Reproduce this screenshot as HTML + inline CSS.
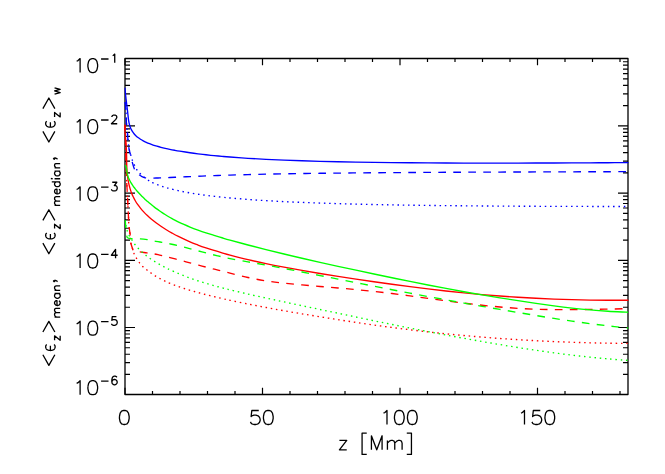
<!DOCTYPE html>
<html><head><meta charset="utf-8"><title>plot</title>
<style>html,body{margin:0;padding:0;background:#fff;font-family:"Liberation Sans",sans-serif}svg{display:block}</style>
</head><body>
<svg width="665" height="474" viewBox="0 0 665 474">
<rect width="665" height="474" fill="#fff"/>
<path d="M125.0 58.5 H628.0 V394.5 H125.0 Z" fill="none" stroke="#000" stroke-width="1.3" stroke-linejoin="round"/>
<path d="M125 394.5 v-6.7 M125 58.5 v6.7 M152.5 394.5 v-3.4 M152.5 58.5 v3.4 M180 394.5 v-3.4 M180 58.5 v3.4 M207.5 394.5 v-3.4 M207.5 58.5 v3.4 M235 394.5 v-3.4 M235 58.5 v3.4 M262.5 394.5 v-6.7 M262.5 58.5 v6.7 M290 394.5 v-3.4 M290 58.5 v3.4 M317.5 394.5 v-3.4 M317.5 58.5 v3.4 M345 394.5 v-3.4 M345 58.5 v3.4 M372.5 394.5 v-3.4 M372.5 58.5 v3.4 M400 394.5 v-6.7 M400 58.5 v6.7 M427.5 394.5 v-3.4 M427.5 58.5 v3.4 M455 394.5 v-3.4 M455 58.5 v3.4 M482.5 394.5 v-3.4 M482.5 58.5 v3.4 M510 394.5 v-3.4 M510 58.5 v3.4 M537.5 394.5 v-6.7 M537.5 58.5 v6.7 M565 394.5 v-3.4 M565 58.5 v3.4 M592.5 394.5 v-3.4 M592.5 58.5 v3.4 M620 394.5 v-3.4 M620 58.5 v3.4 M125.0 374.47 h5 M628.0 374.47 h-5 M125.0 362.64 h5 M628.0 362.64 h-5 M125.0 354.24 h5 M628.0 354.24 h-5 M125.0 347.73 h5 M628.0 347.73 h-5 M125.0 342.41 h5 M628.0 342.41 h-5 M125.0 337.91 h5 M628.0 337.91 h-5 M125.0 334.01 h5 M628.0 334.01 h-5 M125.0 330.57 h5 M628.0 330.57 h-5 M125.0 327.5 h10 M628.0 327.5 h-10 M125.0 307.27 h5 M628.0 307.27 h-5 M125.0 295.44 h5 M628.0 295.44 h-5 M125.0 287.04 h5 M628.0 287.04 h-5 M125.0 280.53 h5 M628.0 280.53 h-5 M125.0 275.21 h5 M628.0 275.21 h-5 M125.0 270.71 h5 M628.0 270.71 h-5 M125.0 266.81 h5 M628.0 266.81 h-5 M125.0 263.37 h5 M628.0 263.37 h-5 M125.0 260.3 h10 M628.0 260.3 h-10 M125.0 240.07 h5 M628.0 240.07 h-5 M125.0 228.24 h5 M628.0 228.24 h-5 M125.0 219.84 h5 M628.0 219.84 h-5 M125.0 213.33 h5 M628.0 213.33 h-5 M125.0 208.01 h5 M628.0 208.01 h-5 M125.0 203.51 h5 M628.0 203.51 h-5 M125.0 199.61 h5 M628.0 199.61 h-5 M125.0 196.17 h5 M628.0 196.17 h-5 M125.0 193.1 h10 M628.0 193.1 h-10 M125.0 172.87 h5 M628.0 172.87 h-5 M125.0 161.04 h5 M628.0 161.04 h-5 M125.0 152.64 h5 M628.0 152.64 h-5 M125.0 146.13 h5 M628.0 146.13 h-5 M125.0 140.81 h5 M628.0 140.81 h-5 M125.0 136.31 h5 M628.0 136.31 h-5 M125.0 132.41 h5 M628.0 132.41 h-5 M125.0 128.97 h5 M628.0 128.97 h-5 M125.0 125.9 h10 M628.0 125.9 h-10 M125.0 105.67 h5 M628.0 105.67 h-5 M125.0 93.84 h5 M628.0 93.84 h-5 M125.0 85.44 h5 M628.0 85.44 h-5 M125.0 78.93 h5 M628.0 78.93 h-5 M125.0 73.61 h5 M628.0 73.61 h-5 M125.0 69.11 h5 M628.0 69.11 h-5 M125.0 65.21 h5 M628.0 65.21 h-5 M125.0 61.77 h5 M628.0 61.77 h-5 M125.0 58.5 h10 M628.0 58.5 h-10 M125.0 394.5 h10 M628.0 394.5 h-10" fill="none" stroke="#000" stroke-width="1.2"/>
<defs><clipPath id="cp"><rect x="124.3" y="58.5" width="504.4" height="336.0"/></clipPath></defs>
<g fill="none" stroke-width="1.35" stroke-linejoin="round" clip-path="url(#cp)">
<path d="M125 87.8 C125 87.85 125.01 87.98 125.02 88.08 C125.03 88.18 125.03 88.27 125.04 88.38 C125.05 88.48 125.05 88.6 125.06 88.71 C125.07 88.82 125.08 88.94 125.09 89.06 C125.1 89.18 125.1 89.3 125.11 89.43 C125.12 89.56 125.14 89.69 125.15 89.83 C125.16 89.97 125.17 90.11 125.18 90.26 C125.19 90.41 125.21 90.55 125.22 90.71 C125.23 90.86 125.25 91.02 125.26 91.19 C125.27 91.36 125.28 91.53 125.3 91.7 C125.31 91.87 125.33 92.05 125.35 92.23 C125.37 92.41 125.38 92.61 125.4 92.8 C125.42 92.99 125.44 93.19 125.46 93.39 C125.48 93.59 125.5 93.8 125.52 94.02 C125.54 94.23 125.56 94.46 125.58 94.68 C125.6 94.9 125.63 95.12 125.66 95.36 C125.69 95.59 125.7 95.84 125.73 96.09 C125.76 96.34 125.78 96.58 125.81 96.84 C125.84 97.1 125.87 97.36 125.9 97.63 C125.93 97.9 125.96 98.17 125.99 98.45 C126.02 98.73 126.06 99.02 126.09 99.31 C126.12 99.6 126.16 99.9 126.2 100.2 C126.24 100.5 126.27 100.82 126.31 101.14 C126.35 101.46 126.39 101.77 126.43 102.1 C126.47 102.43 126.51 102.77 126.55 103.11 C126.59 103.45 126.64 103.8 126.69 104.16 C126.74 104.52 126.78 104.89 126.83 105.27 C126.88 105.65 126.92 106.04 126.97 106.44 C127.02 106.84 127.07 107.25 127.12 107.68 C127.17 108.11 127.22 108.55 127.28 109.01 C127.34 109.47 127.39 109.93 127.45 110.42 C127.51 110.91 127.57 111.41 127.63 111.93 C127.69 112.45 127.75 112.98 127.81 113.54 C127.87 114.1 127.94 114.67 128 115.27 C128.06 115.87 128.12 116.49 128.19 117.12 C128.26 117.75 128.33 118.4 128.42 119.07 C128.51 119.74 128.59 120.43 128.71 121.12 C128.83 121.81 128.95 122.51 129.11 123.22 C129.27 123.93 129.44 124.65 129.65 125.36 C129.86 126.07 130.1 126.79 130.38 127.5 C130.66 128.21 130.96 128.93 131.32 129.63 C131.68 130.33 132.08 131.03 132.53 131.71 C132.98 132.39 133.48 133.07 134.03 133.73 C134.58 134.39 135.19 135.03 135.85 135.65 C136.51 136.28 137.24 136.89 138.01 137.48 C138.78 138.07 139.6 138.64 140.47 139.2 C141.34 139.75 142.26 140.29 143.23 140.81 C144.19 141.33 145.21 141.83 146.26 142.32 C147.31 142.81 148.41 143.27 149.55 143.72 C150.69 144.17 151.87 144.61 153.09 145.02 C154.31 145.44 155.57 145.83 156.88 146.21 C158.19 146.59 159.53 146.97 160.92 147.33 C162.31 147.69 163.74 148.03 165.22 148.36 C166.7 148.69 168.22 149.02 169.79 149.33 C171.35 149.65 172.96 149.95 174.61 150.25 C176.26 150.55 177.12 150.71 179.69 151.12 C182.25 151.53 186.95 152.29 190 152.74 C193.05 153.19 195.33 153.49 198 153.83 C200.67 154.17 203.33 154.48 206 154.78 C208.67 155.08 211.33 155.36 214 155.62 C216.67 155.88 219.33 156.13 222 156.37 C224.67 156.61 225.67 156.72 230 157.04 C234.33 157.36 242 157.93 248 158.31 C254 158.69 260 159.01 266 159.32 C272 159.62 278 159.89 284 160.14 C290 160.38 296 160.59 302 160.79 C308 160.99 314 161.17 320 161.33 C326 161.49 332 161.63 338 161.76 C344 161.89 350 162.01 356 162.11 C362 162.22 368 162.31 374 162.39 C380 162.47 386 162.55 392 162.61 C398 162.68 404 162.73 410 162.78 C416 162.83 422 162.87 428 162.91 C434 162.95 440 162.98 446 163 C452 163.02 458 163.04 464 163.05 C470 163.06 476 163.07 482 163.08 C488 163.09 494 163.09 500 163.09 C506 163.09 512 163.08 518 163.07 C524 163.06 530 163.05 536 163.03 C542 163.01 548 162.99 554 162.97 C560 162.95 566 162.93 572 162.9 C578 162.88 584 162.85 590 162.82 C596 162.79 602 162.75 608 162.72 C614 162.69 622.67 162.63 626 162.61 C629.33 162.59 627.67 162.59 628 162.59" stroke="#0000ff"/>
<path d="M125 101 C125.07 101.83 125.25 104.33 125.4 106 C125.55 107.67 125.72 108 125.9 111 C126.08 114 126.28 120.83 126.5 124 C126.72 127.17 126.92 126.83 127.2 130 C127.48 133.17 127.93 140.07 128.2 143 C128.47 145.93 128.57 146.18 128.8 147.6 C129.03 149.02 129.25 150.1 129.6 151.5 C129.95 152.9 130.48 154.33 130.9 156 C131.32 157.67 131.55 159.42 132.1 161.5 C132.65 163.58 133.47 166.7 134.2 168.5 C134.93 170.3 135.67 171.25 136.5 172.3 C137.33 173.35 138.28 174.08 139.2 174.8 C140.12 175.52 140.98 176.1 142 176.6 C143.02 177.1 144.13 177.53 145.3 177.8 C146.47 178.07 148.22 178.15 149 178.2 C149.78 178.25 149.17 178.13 150 178.11 C150.83 178.09 152.67 178.09 154 178.06 C155.33 178.03 156.67 178 158 177.96 C159.33 177.92 160.67 177.87 162 177.82 C163.33 177.77 164.67 177.72 166 177.66 C167.33 177.6 168 177.58 170 177.49 C172 177.4 175.33 177.25 178 177.13 C180.67 177.01 183.33 176.89 186 176.77 C188.67 176.65 191.33 176.54 194 176.43 C196.67 176.32 199.33 176.21 202 176.1 C204.67 175.99 207.33 175.89 210 175.79 C212.67 175.69 215.33 175.6 218 175.51 C220.67 175.42 224 175.31 226 175.24 C228 175.17 226.33 175.22 230 175.11 C233.67 175.01 242 174.77 248 174.61 C254 174.46 260 174.31 266 174.18 C272 174.05 278 173.94 284 173.83 C290 173.72 296 173.63 302 173.54 C308 173.45 314 173.37 320 173.29 C326 173.21 332 173.14 338 173.08 C344 173.02 350 172.97 356 172.91 C362 172.85 368 172.8 374 172.75 C380 172.7 386 172.66 392 172.62 C398 172.58 404 172.54 410 172.5 C416 172.46 422 172.42 428 172.39 C434 172.35 440 172.32 446 172.29 C452 172.26 458 172.24 464 172.21 C470 172.18 476 172.16 482 172.13 C488 172.1 494 172.08 500 172.06 C506 172.04 512 172.01 518 171.99 C524 171.97 530 171.95 536 171.93 C542 171.91 548 171.89 554 171.87 C560 171.85 566 171.84 572 171.82 C578 171.8 584 171.79 590 171.77 C596 171.75 602 171.74 608 171.72 C614 171.7 622.67 171.69 626 171.68 C629.33 171.67 627.67 171.68 628 171.68" stroke="#0000ff" stroke-dasharray="7.7 7.3" stroke-dashoffset="-1.45"/>
<path d="M125 101.5 C125.08 102.42 125.33 105.25 125.5 107 C125.67 108.75 125.82 109 126 112 C126.18 115 126.38 121.83 126.6 125 C126.82 128.17 127.02 128 127.3 131 C127.58 134 128.02 140.17 128.3 143 C128.58 145.83 128.72 146.42 129 148 C129.28 149.58 129.63 151.08 130 152.5 C130.37 153.92 130.8 155.18 131.2 156.5 C131.6 157.82 131.85 158.93 132.4 160.4 C132.95 161.87 133.75 163.73 134.5 165.3 C135.25 166.87 135.92 168.38 136.9 169.8 C137.88 171.22 139.17 172.55 140.4 173.8 C141.63 175.05 142.93 176.18 144.3 177.3 C145.67 178.42 147.65 179.79 148.6 180.5 C149.55 181.21 149.1 181.1 150 181.58 C150.9 182.06 152.67 182.81 154 183.37 C155.33 183.93 156.67 184.45 158 184.94 C159.33 185.43 160.67 185.88 162 186.32 C163.33 186.75 164.67 187.16 166 187.55 C167.33 187.94 168 188.16 170 188.67 C172 189.18 175.33 190 178 190.59 C180.67 191.18 183.33 191.71 186 192.21 C188.67 192.71 191.33 193.16 194 193.59 C196.67 194.02 199.33 194.41 202 194.79 C204.67 195.16 207.33 195.51 210 195.84 C212.67 196.17 215.33 196.47 218 196.76 C220.67 197.05 224 197.39 226 197.59 C228 197.79 226.33 197.65 230 197.96 C233.67 198.27 242 199 248 199.44 C254 199.88 260 200.27 266 200.63 C272 200.99 278 201.31 284 201.6 C290 201.89 296 202.16 302 202.4 C308 202.65 314 202.87 320 203.07 C326 203.27 332 203.46 338 203.63 C344 203.8 350 203.96 356 204.11 C362 204.26 368 204.39 374 204.52 C380 204.65 386 204.76 392 204.87 C398 204.98 404 205.07 410 205.16 C416 205.25 422 205.34 428 205.42 C434 205.5 440 205.56 446 205.63 C452 205.69 458 205.75 464 205.81 C470 205.87 476 205.92 482 205.97 C488 206.02 494 206.05 500 206.09 C506 206.13 512 206.17 518 206.2 C524 206.23 530 206.26 536 206.29 C542 206.31 548 206.33 554 206.35 C560 206.37 566 206.39 572 206.41 C578 206.43 584 206.44 590 206.45 C596 206.46 602 206.47 608 206.47 C614 206.47 622.67 206.48 626 206.48 C629.33 206.48 627.67 206.49 628 206.49" stroke="#0000ff" stroke-dasharray="1.5 3.76" stroke-dashoffset="-0.75"/>
<path d="M125 124.5 C124.98 124.58 124.92 124.83 124.89 124.99 C124.86 125.15 124.82 125.31 124.79 125.47 C124.76 125.63 124.73 125.78 124.71 125.94 C124.69 126.09 124.67 126.25 124.65 126.4 C124.63 126.55 124.61 126.71 124.6 126.86 C124.59 127.01 124.58 127.16 124.57 127.31 C124.56 127.46 124.56 127.61 124.56 127.77 C124.56 127.92 124.55 128.08 124.55 128.24 C124.55 128.4 124.56 128.55 124.56 128.71 C124.56 128.87 124.57 129.03 124.58 129.2 C124.59 129.36 124.61 129.53 124.62 129.7 C124.63 129.87 124.64 130.04 124.66 130.22 C124.67 130.4 124.69 130.58 124.71 130.77 C124.73 130.96 124.75 131.15 124.77 131.34 C124.79 131.53 124.82 131.74 124.84 131.94 C124.86 132.14 124.88 132.35 124.91 132.57 C124.94 132.79 124.96 133.01 124.99 133.24 C125.02 133.47 125.05 133.7 125.08 133.94 C125.11 134.18 125.14 134.43 125.17 134.69 C125.2 134.95 125.23 135.21 125.26 135.48 C125.29 135.75 125.33 136.03 125.36 136.32 C125.39 136.61 125.43 136.91 125.46 137.22 C125.49 137.53 125.53 137.84 125.56 138.17 C125.59 138.49 125.63 138.82 125.66 139.17 C125.69 139.51 125.73 139.87 125.76 140.24 C125.79 140.61 125.83 140.99 125.86 141.38 C125.89 141.77 125.93 142.17 125.96 142.58 C125.99 142.99 126.02 143.42 126.05 143.86 C126.08 144.3 126.11 144.75 126.14 145.21 C126.17 145.67 126.2 146.14 126.23 146.63 C126.26 147.12 126.28 147.62 126.31 148.14 C126.34 148.66 126.37 149.19 126.39 149.74 C126.41 150.29 126.43 150.84 126.45 151.42 C126.47 151.99 126.49 152.58 126.51 153.19 C126.53 153.8 126.55 154.42 126.57 155.06 C126.59 155.7 126.6 156.36 126.61 157.03 C126.62 157.7 126.63 158.38 126.64 159.09 C126.65 159.8 126.66 160.53 126.67 161.27 C126.68 162.01 126.69 162.77 126.7 163.55 C126.72 164.33 126.74 165.12 126.76 165.94 C126.78 166.76 126.81 167.6 126.85 168.46 C126.89 169.32 126.95 170.21 127.02 171.11 C127.09 172.01 127.16 172.93 127.26 173.88 C127.36 174.83 127.47 175.8 127.61 176.8 C127.75 177.8 127.89 178.82 128.07 179.86 C128.25 180.9 128.44 181.97 128.67 183.06 C128.9 184.15 129.15 185.28 129.45 186.41 C129.75 187.54 130.08 188.69 130.46 189.86 C130.84 191.03 131.25 192.22 131.73 193.42 C132.21 194.62 132.73 195.82 133.32 197.04 C133.91 198.26 134.56 199.49 135.28 200.72 C136 201.95 136.78 203.19 137.64 204.43 C138.5 205.67 139.45 206.92 140.46 208.16 C141.47 209.4 142.55 210.64 143.71 211.87 C144.87 213.1 146.1 214.34 147.4 215.56 C148.7 216.78 150.06 218 151.5 219.2 C152.94 220.4 154.44 221.6 156.01 222.79 C157.58 223.97 159.22 225.15 160.94 226.31 C162.66 227.47 164.44 228.62 166.3 229.76 C168.16 230.9 170.09 232.02 172.1 233.13 C174.11 234.24 175.38 234.95 178.36 236.42 C181.34 237.88 186.73 240.49 190 241.92 C193.27 243.35 195.33 244.03 198 245.02 C200.67 246.01 203.33 246.94 206 247.84 C208.67 248.74 211.33 249.6 214 250.44 C216.67 251.28 219.33 252.07 222 252.85 C224.67 253.62 225.67 253.96 230 255.09 C234.33 256.22 242 258.22 248 259.64 C254 261.06 260 262.36 266 263.62 C272 264.88 278 266.05 284 267.19 C290 268.33 296 269.41 302 270.46 C308 271.51 314 272.51 320 273.5 C326 274.49 332 275.44 338 276.37 C344 277.3 350 278.2 356 279.09 C362 279.98 368 280.85 374 281.71 C380 282.56 386 283.4 392 284.22 C398 285.04 404 285.86 410 286.64 C416 287.42 422 288.18 428 288.91 C434 289.64 440 290.34 446 291 C452 291.66 458 292.29 464 292.89 C470 293.49 476 294.05 482 294.57 C488 295.09 494 295.57 500 296.02 C506 296.47 512 296.88 518 297.25 C524 297.62 530 297.97 536 298.27 C542 298.57 548 298.84 554 299.07 C560 299.3 566 299.5 572 299.66 C578 299.82 584 299.95 590 300.05 C596 300.15 602 300.22 608 300.26 C614 300.3 622.67 300.28 626 300.28 C629.33 300.28 627.67 300.27 628 300.27" stroke="#ff0000"/>
<path d="M125 125 C125.07 127.5 125.27 135 125.4 140 C125.53 145 125.65 150 125.8 155 C125.95 160 126.17 165.83 126.3 170 C126.43 174.17 126.47 176.78 126.6 180 C126.73 183.22 126.93 186.2 127.1 189.3 C127.27 192.4 127.45 195.5 127.6 198.6 C127.75 201.7 127.85 204.82 128 207.9 C128.15 210.98 128.38 214.63 128.5 217.1 C128.62 219.57 128.58 220.95 128.7 222.7 C128.82 224.45 128.93 225.38 129.2 227.6 C129.47 229.82 130.05 233.52 130.3 236 C130.55 238.48 130.28 240.27 130.7 242.5 C131.12 244.73 132.28 247.98 132.8 249.4 C133.32 250.82 133.35 250.65 133.8 251 C134.25 251.35 134.5 251.35 135.5 251.5 C136.5 251.65 137.9 251.67 139.8 251.9 C141.7 252.13 145.2 252.68 146.9 252.9 C148.6 253.12 148.82 253.09 150 253.25 C151.18 253.41 152.67 253.63 154 253.86 C155.33 254.09 156.67 254.37 158 254.65 C159.33 254.93 160.67 255.24 162 255.55 C163.33 255.86 164.67 256.19 166 256.52 C167.33 256.85 168 257.02 170 257.54 C172 258.06 175.33 258.95 178 259.66 C180.67 260.37 183.33 261.1 186 261.81 C188.67 262.52 191.33 263.24 194 263.94 C196.67 264.64 199.33 265.34 202 266.03 C204.67 266.72 207.33 267.4 210 268.08 C212.67 268.76 215.33 269.43 218 270.1 C220.67 270.77 224 271.6 226 272.1 C228 272.6 226.33 272.22 230 273.11 C233.67 274 242 276.18 248 277.47 C254 278.76 260 279.92 266 280.87 C272 281.82 278 282.5 284 283.18 C290 283.86 296 284.38 302 284.93 C308 285.48 314 285.95 320 286.46 C326 286.97 332 287.45 338 287.97 C344 288.49 350 289.01 356 289.59 C362 290.16 368 290.77 374 291.42 C380 292.07 386 292.77 392 293.51 C398 294.25 404 295.06 410 295.86 C416 296.67 422 297.52 428 298.34 C434 299.16 440 300 446 300.8 C452 301.6 458 302.38 464 303.12 C470 303.86 476 304.56 482 305.21 C488 305.85 494 306.47 500 306.99 C506 307.51 512 307.96 518 308.33 C524 308.7 530 308.98 536 309.19 C542 309.4 548 309.51 554 309.58 C560 309.65 566 309.64 572 309.62 C578 309.6 584 309.52 590 309.44 C596 309.36 602 309.23 608 309.11 C614 308.99 622.67 308.78 626 308.7 C629.33 308.62 627.67 308.66 628 308.65" stroke="#ff0000" stroke-dasharray="7.7 7.3" stroke-dashoffset="2.1"/>
<path d="M125 125.5 C125.07 127.92 125.27 135.08 125.4 140 C125.53 144.92 125.65 150 125.8 155 C125.95 160 126.17 165.83 126.3 170 C126.43 174.17 126.47 176.78 126.6 180 C126.73 183.22 126.93 186.2 127.1 189.3 C127.27 192.4 127.45 195.5 127.6 198.6 C127.75 201.7 127.85 204.82 128 207.9 C128.15 210.98 128.38 214.67 128.5 217.1 C128.62 219.53 128.58 220.75 128.7 222.5 C128.82 224.25 128.93 225.35 129.2 227.6 C129.47 229.85 130.05 233.52 130.3 236 C130.55 238.48 130.32 240.33 130.7 242.5 C131.08 244.67 132.05 247.18 132.6 249 C133.15 250.82 133.37 251.88 134 253.4 C134.63 254.92 135.53 256.6 136.4 258.1 C137.27 259.6 138.15 261 139.2 262.4 C140.25 263.8 141.47 265.27 142.7 266.5 C143.93 267.73 145.38 268.83 146.6 269.8 C147.82 270.77 148.77 271.44 150 272.33 C151.23 273.22 152.67 274.26 154 275.13 C155.33 276 156.67 276.78 158 277.54 C159.33 278.3 160.67 279 162 279.67 C163.33 280.34 164.67 280.97 166 281.57 C167.33 282.17 168 282.49 170 283.29 C172 284.09 175.33 285.39 178 286.35 C180.67 287.31 183.33 288.18 186 289.03 C188.67 289.88 191.33 290.66 194 291.43 C196.67 292.2 199.33 292.92 202 293.63 C204.67 294.34 207.33 295.01 210 295.67 C212.67 296.33 215.33 296.97 218 297.59 C220.67 298.21 224 298.96 226 299.41 C228 299.86 226.33 299.52 230 300.29 C233.67 301.06 242 302.83 248 304.03 C254 305.23 260 306.37 266 307.49 C272 308.61 278 309.69 284 310.75 C290 311.81 296 312.83 302 313.84 C308 314.85 314 315.83 320 316.8 C326 317.77 332 318.72 338 319.65 C344 320.58 350 321.5 356 322.4 C362 323.29 368 324.17 374 325.02 C380 325.87 386 326.7 392 327.49 C398 328.28 404 329.04 410 329.77 C416 330.5 422 331.21 428 331.88 C434 332.55 440 333.19 446 333.8 C452 334.41 458 334.98 464 335.53 C470 336.08 476 336.6 482 337.09 C488 337.58 494 338.04 500 338.47 C506 338.9 512 339.31 518 339.68 C524 340.05 530 340.39 536 340.71 C542 341.03 548 341.32 554 341.58 C560 341.84 566 342.06 572 342.27 C578 342.47 584 342.66 590 342.81 C596 342.96 602 343.08 608 343.18 C614 343.28 622.67 343.36 626 343.4 C629.33 343.44 627.67 343.42 628 343.42" stroke="#ff0000" stroke-dasharray="1.5 3.76" stroke-dashoffset="-1.78"/>
<path d="M125 164.9 C125.04 164.94 125.18 165.08 125.26 165.17 C125.34 165.26 125.42 165.36 125.49 165.46 C125.56 165.56 125.63 165.66 125.69 165.77 C125.75 165.88 125.8 166 125.85 166.11 C125.9 166.23 125.95 166.34 125.99 166.46 C126.03 166.58 126.07 166.72 126.11 166.85 C126.15 166.98 126.18 167.11 126.21 167.25 C126.24 167.39 126.27 167.54 126.3 167.69 C126.33 167.84 126.35 167.99 126.37 168.15 C126.39 168.31 126.42 168.47 126.44 168.63 C126.46 168.79 126.49 168.96 126.51 169.14 C126.53 169.31 126.56 169.5 126.58 169.68 C126.6 169.87 126.62 170.06 126.65 170.25 C126.68 170.44 126.7 170.64 126.73 170.85 C126.76 171.06 126.79 171.26 126.82 171.48 C126.85 171.69 126.89 171.92 126.93 172.14 C126.97 172.36 127.01 172.59 127.06 172.82 C127.11 173.05 127.15 173.29 127.21 173.54 C127.27 173.79 127.33 174.04 127.4 174.3 C127.47 174.56 127.53 174.81 127.61 175.08 C127.69 175.35 127.77 175.62 127.86 175.9 C127.95 176.18 128.04 176.46 128.14 176.75 C128.24 177.04 128.35 177.34 128.47 177.64 C128.59 177.94 128.72 178.25 128.85 178.56 C128.98 178.87 129.13 179.2 129.28 179.52 C129.43 179.84 129.59 180.17 129.76 180.51 C129.93 180.85 130.11 181.19 130.3 181.54 C130.49 181.89 130.7 182.25 130.91 182.61 C131.12 182.97 131.35 183.34 131.58 183.72 C131.81 184.09 132.05 184.47 132.31 184.86 C132.57 185.25 132.84 185.64 133.13 186.04 C133.41 186.44 133.71 186.86 134.02 187.27 C134.33 187.69 134.65 188.1 134.99 188.53 C135.33 188.96 135.67 189.4 136.04 189.84 C136.41 190.28 136.79 190.73 137.19 191.19 C137.59 191.65 137.99 192.11 138.42 192.58 C138.85 193.05 139.3 193.52 139.76 194.01 C140.22 194.5 140.69 194.99 141.19 195.49 C141.69 195.99 142.2 196.5 142.73 197.01 C143.26 197.52 143.81 198.05 144.38 198.58 C144.95 199.11 145.53 199.65 146.13 200.19 C146.73 200.73 147.36 201.29 148.01 201.85 C148.66 202.41 149.31 202.98 150 203.55 C150.69 204.12 151.39 204.71 152.12 205.3 C152.85 205.89 153.6 206.49 154.38 207.09 C155.16 207.69 155.97 208.3 156.8 208.91 C157.63 209.52 158.49 210.15 159.38 210.77 C160.27 211.39 161.19 212.02 162.15 212.65 C163.11 213.28 164.09 213.91 165.11 214.55 C166.13 215.19 167.19 215.83 168.28 216.47 C169.37 217.11 170.5 217.76 171.67 218.41 C172.84 219.06 174.05 219.7 175.3 220.35 C176.55 221 177.83 221.64 179.17 222.29 C180.5 222.94 181.5 223.43 183.31 224.23 C185.12 225.03 187.55 226.1 190 227.07 C192.45 228.04 195.33 229.1 198 230.05 C200.67 231 203.33 231.91 206 232.79 C208.67 233.67 211.33 234.52 214 235.35 C216.67 236.18 219.33 236.98 222 237.77 C224.67 238.56 225.67 238.89 230 240.09 C234.33 241.29 242 243.41 248 244.99 C254 246.57 260 248.09 266 249.59 C272 251.09 278 252.55 284 253.99 C290 255.43 296 256.83 302 258.22 C308 259.61 314 260.97 320 262.32 C326 263.67 332 265 338 266.31 C344 267.62 350 268.92 356 270.21 C362 271.5 368 272.77 374 274.03 C380 275.29 386 276.53 392 277.77 C398 279 404 280.24 410 281.44 C416 282.64 422 283.83 428 285 C434 286.17 440 287.31 446 288.43 C452 289.55 458 290.65 464 291.72 C470 292.79 476 293.84 482 294.86 C488 295.88 494 296.88 500 297.85 C506 298.82 512 299.77 518 300.69 C524 301.61 530 302.51 536 303.37 C542 304.23 548 305.08 554 305.86 C560 306.64 566 307.38 572 308.05 C578 308.72 584 309.34 590 309.88 C596 310.42 602 310.88 608 311.27 C614 311.65 622.67 312.02 626 312.19 C629.33 312.36 627.67 312.25 628 312.26" stroke="#00ff00"/>
<path d="M125.2 220.2 C125.32 221.52 125.63 225.47 125.9 228.1 C126.17 230.73 126.55 234.42 126.8 236 C127.05 237.58 127.03 237.22 127.4 237.6 C127.77 237.98 128.17 238.12 129 238.3 C129.83 238.48 130.53 238.6 132.4 238.7 C134.27 238.8 137.73 238.75 140.2 238.9 C142.67 239.05 145.57 239.38 147.2 239.6 C148.83 239.82 148.87 240.01 150 240.25 C151.13 240.49 152.67 240.77 154 241.01 C155.33 241.25 156.67 241.47 158 241.7 C159.33 241.93 160.67 242.15 162 242.38 C163.33 242.61 164.67 242.85 166 243.1 C167.33 243.35 168 243.45 170 243.88 C172 244.31 175.33 245.02 178 245.65 C180.67 246.28 183.33 246.97 186 247.66 C188.67 248.35 191.33 249.06 194 249.77 C196.67 250.48 199.33 251.19 202 251.89 C204.67 252.59 207.33 253.29 210 253.96 C212.67 254.63 215.33 255.3 218 255.93 C220.67 256.56 224 257.31 226 257.75 C228 258.19 226.33 257.9 230 258.59 C233.67 259.28 242 260.83 248 261.91 C254 262.99 260 263.99 266 265.08 C272 266.17 278 267.31 284 268.46 C290 269.61 296 270.79 302 271.97 C308 273.15 314 274.35 320 275.54 C326 276.73 332 277.94 338 279.13 C344 280.32 350 281.51 356 282.69 C362 283.87 368 285.06 374 286.23 C380 287.4 386 288.57 392 289.72 C398 290.87 404 292.01 410 293.15 C416 294.28 422 295.41 428 296.53 C434 297.64 440 298.74 446 299.84 C452 300.94 458 302.03 464 303.1 C470 304.18 476 305.24 482 306.29 C488 307.34 494 308.39 500 309.42 C506 310.45 512 311.48 518 312.49 C524 313.5 530 314.51 536 315.5 C542 316.49 548 317.47 554 318.41 C560 319.35 566 320.27 572 321.14 C578 322.01 584 322.84 590 323.63 C596 324.42 602 325.16 608 325.85 C614 326.54 622.67 327.41 626 327.76 C629.33 328.11 627.67 327.92 628 327.95" stroke="#00ff00" stroke-dasharray="7.7 7.3" stroke-dashoffset="-0.3"/>
<path d="M125.2 220.5 C125.33 221.42 125.67 224.27 126 226 C126.33 227.73 126.77 229.52 127.2 230.9 C127.63 232.28 128.08 233.2 128.6 234.3 C129.12 235.4 129.7 236.5 130.3 237.5 C130.9 238.5 131.42 239.12 132.2 240.3 C132.98 241.48 133.97 243.23 135 244.6 C136.03 245.97 137.2 247.23 138.4 248.5 C139.6 249.77 140.88 251 142.2 252.2 C143.52 253.4 145 254.65 146.3 255.7 C147.6 256.75 148.72 257.6 150 258.5 C151.28 259.4 152.67 260.28 154 261.12 C155.33 261.96 156.67 262.76 158 263.53 C159.33 264.3 160.67 265.04 162 265.76 C163.33 266.48 164.67 267.18 166 267.85 C167.33 268.52 168 268.88 170 269.8 C172 270.72 175.33 272.24 178 273.37 C180.67 274.5 183.33 275.55 186 276.56 C188.67 277.57 191.33 278.52 194 279.44 C196.67 280.36 199.33 281.24 202 282.08 C204.67 282.92 207.33 283.72 210 284.5 C212.67 285.28 215.33 286.02 218 286.74 C220.67 287.46 224 288.31 226 288.82 C228 289.33 226.33 288.95 230 289.82 C233.67 290.69 242 292.69 248 294.06 C254 295.43 260 296.73 266 298.04 C272 299.35 278 300.62 284 301.9 C290 303.18 296 304.44 302 305.7 C308 306.96 314 308.22 320 309.48 C326 310.74 332 311.99 338 313.24 C344 314.49 350 315.75 356 317 C362 318.25 368 319.51 374 320.75 C380 321.99 386 323.23 392 324.45 C398 325.67 404 326.88 410 328.07 C416 329.26 422 330.43 428 331.59 C434 332.75 440 333.89 446 335.01 C452 336.13 458 337.23 464 338.31 C470 339.39 476 340.46 482 341.5 C488 342.54 494 343.57 500 344.57 C506 345.57 512 346.56 518 347.52 C524 348.47 530 349.41 536 350.3 C542 351.19 548 352.04 554 352.85 C560 353.66 566 354.43 572 355.15 C578 355.87 584 356.54 590 357.16 C596 357.78 602 358.35 608 358.87 C614 359.39 622.67 360 626 360.26 C629.33 360.51 627.67 360.38 628 360.4" stroke="#00ff00" stroke-dasharray="1.5 3.76" stroke-dashoffset="0.77"/>
</g>
<g fill="none" stroke="#000" stroke-width="1.3" stroke-linejoin="round" stroke-linecap="butt">
<path transform="translate(117.8 424.5)" d="M1.65 -8 L2.34 -11.34 L3.73 -13.34 L5.81 -14.01 L7.2 -14.01 L9.28 -13.34 L10.67 -11.34 L11.36 -8 L11.36 -6 L10.67 -2.67 L9.28 -0.67 L7.2 0 L5.81 0 L3.73 -0.67 L2.34 -2.67 L1.65 -6 L1.65 -8"/>
<path transform="translate(248.79 424.5)" d="M9.97 -14.01 L3.03 -14.01 L2.34 -8 L3.03 -8.67 L5.12 -9.34 L7.2 -9.34 L9.28 -8.67 L10.67 -7.34 L11.36 -5.34 L11.36 -4 L10.67 -2 L9.28 -0.67 L7.2 0 L5.12 0 L3.03 -0.67 L2.34 -1.33 L1.65 -2.67 M14.65 -8 L15.35 -11.34 L16.74 -13.34 L18.82 -14.01 L20.2 -14.01 L22.28 -13.34 L23.67 -11.34 L24.37 -8 L24.37 -6 L23.67 -2.67 L22.28 -0.67 L20.2 0 L18.82 0 L16.74 -0.67 L15.35 -2.67 L14.65 -6 L14.65 -8"/>
<path transform="translate(379.79 424.5)" d="M7.2 0 L7.2 -14.01 L5.12 -12.01 L3.73 -11.34 M14.65 -8 L15.35 -11.34 L16.74 -13.34 L18.82 -14.01 L20.2 -14.01 L22.28 -13.34 L23.67 -11.34 L24.37 -8 L24.37 -6 L23.67 -2.67 L22.28 -0.67 L20.2 0 L18.82 0 L16.74 -0.67 L15.35 -2.67 L14.65 -6 L14.65 -8 M27.66 -8 L28.35 -11.34 L29.74 -13.34 L31.82 -14.01 L33.21 -14.01 L35.29 -13.34 L36.68 -11.34 L37.37 -8 L37.37 -6 L36.68 -2.67 L35.29 -0.67 L33.21 0 L31.82 0 L29.74 -0.67 L28.35 -2.67 L27.66 -6 L27.66 -8"/>
<path transform="translate(517.29 424.5)" d="M7.2 0 L7.2 -14.01 L5.12 -12.01 L3.73 -11.34 M22.98 -14.01 L16.04 -14.01 L15.35 -8 L16.04 -8.67 L18.12 -9.34 L20.2 -9.34 L22.28 -8.67 L23.67 -7.34 L24.37 -5.34 L24.37 -4 L23.67 -2 L22.28 -0.67 L20.2 0 L18.12 0 L16.04 -0.67 L15.35 -1.33 L14.65 -2.67 M27.66 -8 L28.35 -11.34 L29.74 -13.34 L31.82 -14.01 L33.21 -14.01 L35.29 -13.34 L36.68 -11.34 L37.37 -8 L37.37 -6 L36.68 -2.67 L35.29 -0.67 L33.21 0 L31.82 0 L29.74 -0.67 L28.35 -2.67 L27.66 -6 L27.66 -8"/>
<path transform="translate(337.4 449.8)" d="M2 -9.34 L9.34 -9.34 L2 0 L9.34 0 M29.35 -16.68 L24.68 -16.68 L24.68 4.67 L29.35 4.67 M34.02 0 L34.02 -14.01 L39.35 0 L44.69 -14.01 L44.69 0 M50.03 -9.34 L50.03 0 M57.36 -6.67 L57.36 0 M57.36 -6.67 L59.36 -8.67 L60.7 -9.34 L62.7 -9.34 L64.03 -8.67 L64.7 -6.67 L64.7 0 M57.36 -6.67 L56.7 -8.67 L55.36 -9.34 L53.36 -9.34 L52.03 -8.67 L50.03 -6.67 M69.37 -16.68 L74.04 -16.68 L74.04 4.67 L69.37 4.67"/>
<path transform="translate(72.75 72.6)" d="M7.36 0 L7.36 -14.01 L5.28 -12.01 L3.9 -11.34 M15.15 -8 L15.85 -11.34 L17.24 -13.34 L19.32 -14.01 L20.7 -14.01 L22.78 -13.34 L24.17 -11.34 L24.87 -8 L24.87 -6 L24.17 -2.67 L22.78 -0.67 L20.7 0 L19.32 0 L17.24 -0.67 L15.85 -2.67 L15.15 -6 L15.15 -8 M28.33 -13.59 L35.78 -13.59 M41.98 -9.87 L41.98 -18.56 L40.74 -17.32 L39.91 -16.9"/>
<path transform="translate(72.75 133.6)" d="M7.36 0 L7.36 -14.01 L5.28 -12.01 L3.9 -11.34 M15.15 -8 L15.85 -11.34 L17.24 -13.34 L19.32 -14.01 L20.7 -14.01 L22.78 -13.34 L24.17 -11.34 L24.87 -8 L24.87 -6 L24.17 -2.67 L22.78 -0.67 L20.7 0 L19.32 0 L17.24 -0.67 L15.85 -2.67 L15.15 -6 L15.15 -8 M28.33 -13.59 L35.78 -13.59 M44.46 -9.87 L38.67 -9.87 L42.81 -14.01 L43.64 -15.25 L44.05 -16.07 L44.05 -16.9 L43.64 -17.73 L43.22 -18.14 L42.39 -18.56 L40.74 -18.56 L39.91 -18.14 L39.5 -17.73 L39.09 -16.9 L39.09 -16.49"/>
<path transform="translate(72.75 200.8)" d="M7.36 0 L7.36 -14.01 L5.28 -12.01 L3.9 -11.34 M15.15 -8 L15.85 -11.34 L17.24 -13.34 L19.32 -14.01 L20.7 -14.01 L22.78 -13.34 L24.17 -11.34 L24.87 -8 L24.87 -6 L24.17 -2.67 L22.78 -0.67 L20.7 0 L19.32 0 L17.24 -0.67 L15.85 -2.67 L15.15 -6 L15.15 -8 M28.33 -13.59 L35.78 -13.59 M39.5 -18.56 L44.05 -18.56 L41.57 -15.25 L42.81 -15.25 L43.64 -14.83 L44.05 -14.42 L44.46 -13.18 L44.46 -12.35 L44.05 -11.11 L43.22 -10.29 L41.98 -9.87 L40.74 -9.87 L39.5 -10.29 L39.09 -10.7 L38.67 -11.53"/>
<path transform="translate(72.75 268)" d="M7.36 0 L7.36 -14.01 L5.28 -12.01 L3.9 -11.34 M15.15 -8 L15.85 -11.34 L17.24 -13.34 L19.32 -14.01 L20.7 -14.01 L22.78 -13.34 L24.17 -11.34 L24.87 -8 L24.87 -6 L24.17 -2.67 L22.78 -0.67 L20.7 0 L19.32 0 L17.24 -0.67 L15.85 -2.67 L15.15 -6 L15.15 -8 M28.33 -13.59 L35.78 -13.59 M42.81 -9.87 L42.81 -18.56 L38.67 -12.77 L44.88 -12.77"/>
<path transform="translate(72.75 335.2)" d="M7.36 0 L7.36 -14.01 L5.28 -12.01 L3.9 -11.34 M15.15 -8 L15.85 -11.34 L17.24 -13.34 L19.32 -14.01 L20.7 -14.01 L22.78 -13.34 L24.17 -11.34 L24.87 -8 L24.87 -6 L24.17 -2.67 L22.78 -0.67 L20.7 0 L19.32 0 L17.24 -0.67 L15.85 -2.67 L15.15 -6 L15.15 -8 M28.33 -13.59 L35.78 -13.59 M43.64 -18.56 L39.5 -18.56 L39.09 -14.83 L39.5 -15.25 L40.74 -15.66 L41.98 -15.66 L43.22 -15.25 L44.05 -14.42 L44.46 -13.18 L44.46 -12.35 L44.05 -11.11 L43.22 -10.29 L41.98 -9.87 L40.74 -9.87 L39.5 -10.29 L39.09 -10.7 L38.67 -11.53"/>
<path transform="translate(72.75 394.7)" d="M7.36 0 L7.36 -14.01 L5.28 -12.01 L3.9 -11.34 M15.15 -8 L15.85 -11.34 L17.24 -13.34 L19.32 -14.01 L20.7 -14.01 L22.78 -13.34 L24.17 -11.34 L24.87 -8 L24.87 -6 L24.17 -2.67 L22.78 -0.67 L20.7 0 L19.32 0 L17.24 -0.67 L15.85 -2.67 L15.15 -6 L15.15 -8 M28.33 -13.59 L35.78 -13.59 M39.09 -12.77 L39.09 -14.83 L39.5 -16.9 L40.33 -18.14 L41.57 -18.56 L42.39 -18.56 L43.64 -18.14 L44.05 -17.32 M39.09 -12.77 L39.5 -11.11 L40.33 -10.29 L41.57 -9.87 L41.98 -9.87 L43.22 -10.29 L44.05 -11.11 L44.46 -12.35 L44.46 -12.77 L44.05 -14.01 L43.22 -14.83 L41.98 -15.25 L41.57 -15.25 L40.33 -14.83 L39.5 -14.01 L39.09 -12.77"/>
<path transform="translate(54.85 368) rotate(-90)" d="M13.3 -11.97 L2.66 -5.99 L13.3 0 M23.44 -8.11 L23.22 -8.34 L22.9 -8.65 L22.54 -8.91 L22.19 -9.05 L21.81 -9.14 L21.41 -9.18 L21.01 -9.18 L20.59 -9.15 L20.15 -9.04 L19.68 -8.86 L19.19 -8.61 L18.75 -8.25 L18.39 -7.75 L18.07 -7.16 L17.82 -6.52 L17.64 -5.85 L17.53 -5.15 L17.49 -4.46 L17.53 -3.76 L17.64 -3.06 L17.82 -2.39 L18.07 -1.76 L18.39 -1.16 L18.75 -0.67 L19.19 -0.31 L19.68 -0.05 L20.15 0.13 L20.59 0.24 L21.01 0.27 L21.41 0.27 L21.81 0.23 L22.19 0.14 L22.54 0 L22.9 -0.26 L23.22 -0.57 L23.44 -0.8 M17.49 -4.46 L22.34 -4.46 M27.8 -0.27 L32.19 -0.27 L27.8 5.32 L32.19 5.32 M36.04 -11.97 L46.68 -5.99 L36.04 0 M50.94 -0.27 L50.94 5.32 M55.33 1.33 L55.33 5.32 M55.33 1.33 L56.53 0.13 L57.32 -0.27 L58.52 -0.27 L59.32 0.13 L59.72 1.33 L59.72 5.32 M55.33 1.33 L54.93 0.13 L54.13 -0.27 L52.93 -0.27 L52.14 0.13 L50.94 1.33 M62.51 2.13 L67.3 2.13 L67.3 1.33 L66.9 0.53 L66.5 0.13 L65.7 -0.27 L64.5 -0.27 L63.71 0.13 L62.91 0.93 L62.51 2.13 L62.51 2.93 L62.91 4.12 L63.71 4.92 L64.5 5.32 L65.7 5.32 L66.5 4.92 L67.3 4.12 M74.48 -0.27 L74.48 5.32 M74.48 0.93 L73.68 0.13 L72.88 -0.27 L71.69 -0.27 L70.89 0.13 L70.09 0.93 L69.69 2.13 L69.69 2.93 L70.09 4.12 L70.89 4.92 L71.69 5.32 L72.88 5.32 L73.68 4.92 L74.48 4.12 M77.67 -0.27 L77.67 5.32 M82.06 5.32 L82.06 1.33 L81.66 0.13 L80.86 -0.27 L79.67 -0.27 L78.87 0.13 L77.67 1.33 M87.65 -0.67 L87.65 0.67 L86.98 2 L86.32 2.66 M87.65 -0.67 L86.98 -1.33 L86.32 -0.67 L86.98 0 L87.65 -0.67 M124.89 -11.97 L114.25 -5.99 L124.89 0 M135.03 -8.11 L134.8 -8.34 L134.48 -8.65 L134.13 -8.91 L133.78 -9.05 L133.39 -9.14 L133 -9.18 L132.59 -9.18 L132.18 -9.15 L131.74 -9.04 L131.26 -8.86 L130.78 -8.61 L130.34 -8.25 L129.97 -7.75 L129.66 -7.16 L129.41 -6.52 L129.23 -5.85 L129.12 -5.15 L129.08 -4.46 L129.12 -3.76 L129.23 -3.06 L129.41 -2.39 L129.66 -1.76 L129.97 -1.16 L130.34 -0.67 L130.78 -0.31 L131.26 -0.05 L131.74 0.13 L132.18 0.24 L132.59 0.27 L133 0.27 L133.39 0.23 L133.78 0.14 L134.13 0 L134.48 -0.26 L134.8 -0.57 L135.03 -0.8 M129.08 -4.46 L133.93 -4.46 M139.38 -0.27 L143.77 -0.27 L139.38 5.32 L143.77 5.32 M147.63 -11.97 L158.27 -5.99 L147.63 0 M162.53 -0.27 L162.53 5.32 M166.92 1.33 L166.92 5.32 M166.92 1.33 L168.11 0.13 L168.91 -0.27 L170.11 -0.27 L170.91 0.13 L171.3 1.33 L171.3 5.32 M166.92 1.33 L166.52 0.13 L165.72 -0.27 L164.52 -0.27 L163.72 0.13 L162.53 1.33 M174.1 2.13 L178.89 2.13 L178.89 1.33 L178.49 0.53 L178.09 0.13 L177.29 -0.27 L176.09 -0.27 L175.29 0.13 L174.5 0.93 L174.1 2.13 L174.1 2.93 L174.5 4.12 L175.29 4.92 L176.09 5.32 L177.29 5.32 L178.09 4.92 L178.89 4.12 M186.07 -3.06 L186.07 5.32 M186.07 0.93 L185.27 0.13 L184.47 -0.27 L183.27 -0.27 L182.48 0.13 L181.68 0.93 L181.28 2.13 L181.28 2.93 L181.68 4.12 L182.48 4.92 L183.27 5.32 L184.47 5.32 L185.27 4.92 L186.07 4.12 M189.26 -0.27 L189.26 5.32 M188.86 -3.06 L189.26 -3.46 L189.66 -3.06 L189.26 -2.66 L188.86 -3.06 M196.84 -0.27 L196.84 5.32 M196.84 0.93 L196.04 0.13 L195.24 -0.27 L194.05 -0.27 L193.25 0.13 L192.45 0.93 L192.05 2.13 L192.05 2.93 L192.45 4.12 L193.25 4.92 L194.05 5.32 L195.24 5.32 L196.04 4.92 L196.84 4.12 M200.03 -0.27 L200.03 5.32 M204.42 5.32 L204.42 1.33 L204.02 0.13 L203.22 -0.27 L202.03 -0.27 L201.23 0.13 L200.03 1.33 M210.01 -0.67 L210.01 0.67 L209.34 2 L208.68 2.66 M210.01 -0.67 L209.34 -1.33 L208.68 -0.67 L209.34 0 L210.01 -0.67 M236.61 -11.97 L225.97 -5.99 L236.61 0 M246.75 -8.11 L246.52 -8.34 L246.2 -8.65 L245.85 -8.91 L245.5 -9.05 L245.11 -9.14 L244.72 -9.18 L244.31 -9.18 L243.9 -9.15 L243.46 -9.04 L242.98 -8.86 L242.5 -8.61 L242.06 -8.25 L241.69 -7.75 L241.38 -7.16 L241.13 -6.52 L240.95 -5.85 L240.84 -5.15 L240.8 -4.46 L240.84 -3.76 L240.95 -3.06 L241.13 -2.39 L241.38 -1.76 L241.69 -1.16 L242.06 -0.67 L242.5 -0.31 L242.98 -0.05 L243.46 0.13 L243.9 0.24 L244.31 0.27 L244.72 0.27 L245.11 0.23 L245.5 0.14 L245.85 0 L246.2 -0.26 L246.52 -0.57 L246.75 -0.8 M240.8 -4.46 L245.65 -4.46 M251.1 -0.27 L255.49 -0.27 L251.1 5.32 L255.49 5.32 M259.35 -11.97 L269.99 -5.99 L259.35 0 M273.85 -0.27 L275.44 5.32 L277.04 -0.27 L278.63 5.32 L280.23 -0.27"/>
</g>
</svg>
</body></html>
